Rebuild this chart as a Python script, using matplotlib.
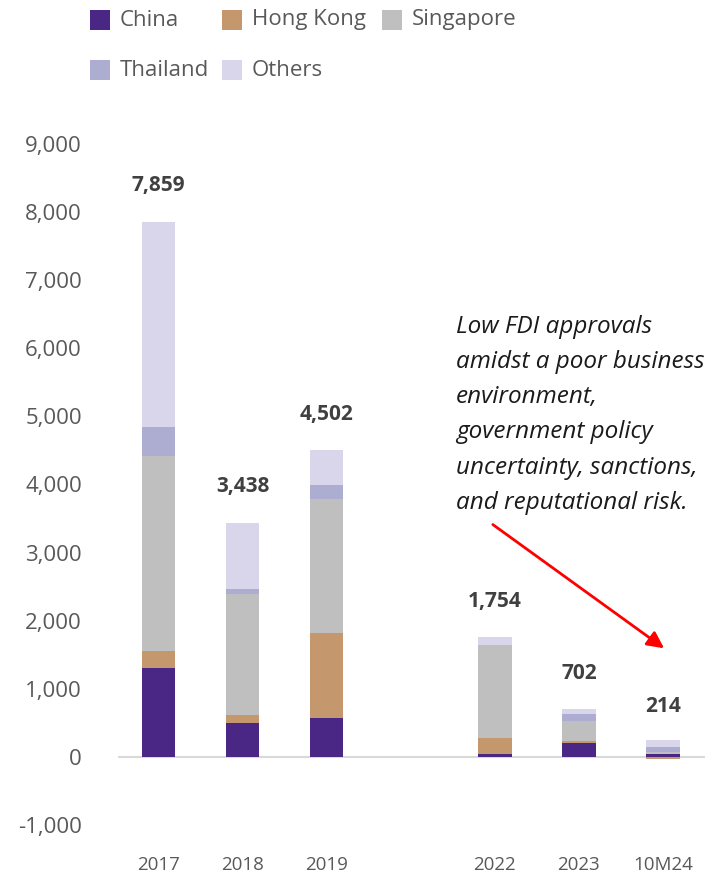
import matplotlib
matplotlib.use("Agg")
import matplotlib.pyplot as plt
from matplotlib.patches import Rectangle
import numpy as np

plt.rcParams['font.family'] = ['Open Sans', 'DejaVu Sans']

# FDI approvals by source (USD mn)
categories = ["2017", "2018", "2019", "2022", "2023", "10M24"]
positions = [0, 1, 2, 4, 5, 6]
china = [1307, 499, 573, 44, 206, 45]
hong_kong = [248, 118, 1248, 235, 34, -30]
singapore = [2865, 1777, 1967, 1366, 293, 25]
thailand = [426, 73, 206, 0, 98, 70]
others = [3013, 971, 508, 109, 71, 104]
totals = [7859, 3438, 4502, 1754, 702, 214]
yticks = [-1000, 0, 1000, 2000, 3000, 4000, 5000, 6000, 7000, 8000, 9000]

series = [
    ("China", china, "#4B2785"),
    ("Hong Kong", hong_kong, "#C4976C"),
    ("Singapore", singapore, "#BFBFBF"),
    ("Thailand", thailand, "#ADADD1"),
    ("Others", others, "#D9D6EB"),
]

W, H = 720, 875
fig = plt.figure(figsize=(W / 100, H / 100), dpi=100)
ax = fig.add_axes([118 / W, 50 / H, 587 / W, 681 / H])

pos_bottom = np.zeros(len(categories))
neg_bottom = np.zeros(len(categories))
for name, vals, color in series:
    vals = np.array(vals, dtype=float)
    bottom = np.where(vals >= 0, pos_bottom, neg_bottom)
    ax.bar(positions, vals, width=0.4, bottom=bottom, color=color,
           edgecolor="none", zorder=2)
    pos_bottom += np.where(vals >= 0, vals, 0)
    neg_bottom += np.where(vals < 0, vals, 0)

for x, t in zip(positions, totals):
    ax.text(x, t + 530, f"{t:,}", ha="center", va="center", fontsize=15,
            fontweight="bold", color="#404040")

ax.axhline(0, color="#D9D9D9", lw=1.5, zorder=1)
ax.set_xlim(-0.48, 6.5)
ax.set_ylim(-1000, 9000)
ax.set_yticks(yticks)
ax.set_yticklabels([f"{v:,}" for v in yticks], fontsize=16, color="#595959")
ax.set_xticks(positions)
ax.set_xticklabels(categories, fontsize=13.5, color="#595959")
ax.tick_params(axis="both", length=0)
ax.tick_params(axis="y", pad=26)
ax.tick_params(axis="x", pad=22)
for s in ax.spines.values():
    s.set_visible(False)

ax.text(3.54, 6490,
        "Low FDI approvals\namidst a poor business\nenvironment,\ngovernment policy\n"
        "uncertainty, sanctions,\nand reputational risk.",
        ha="left", va="top", fontsize=17.5, style="italic", color="#1a1a1a",
        linespacing=1.62)
ax.annotate("", xy=(6.04, 1571), xytext=(3.95, 3436),
            arrowprops=dict(arrowstyle="-|>,head_length=1.0,head_width=0.5",
                            color="#FF0000", lw=2))

# legend: two rows of colour squares with labels
legend_slots = [(90, 20), (222, 20), (382, 20), (90, 70), (222, 70)]
for (px, py), (name, _, color) in zip(legend_slots, series):
    fig.add_artist(Rectangle((px / W, 1 - (py + 10) / H), 20 / W, 20 / H,
                             transform=fig.transFigure, facecolor=color,
                             edgecolor="none"))
    fig.text((px + 30) / W, 1 - py / H, name, ha="left", va="center",
             fontsize=16, color="#595959")

fig.savefig("out.png", dpi=100)
